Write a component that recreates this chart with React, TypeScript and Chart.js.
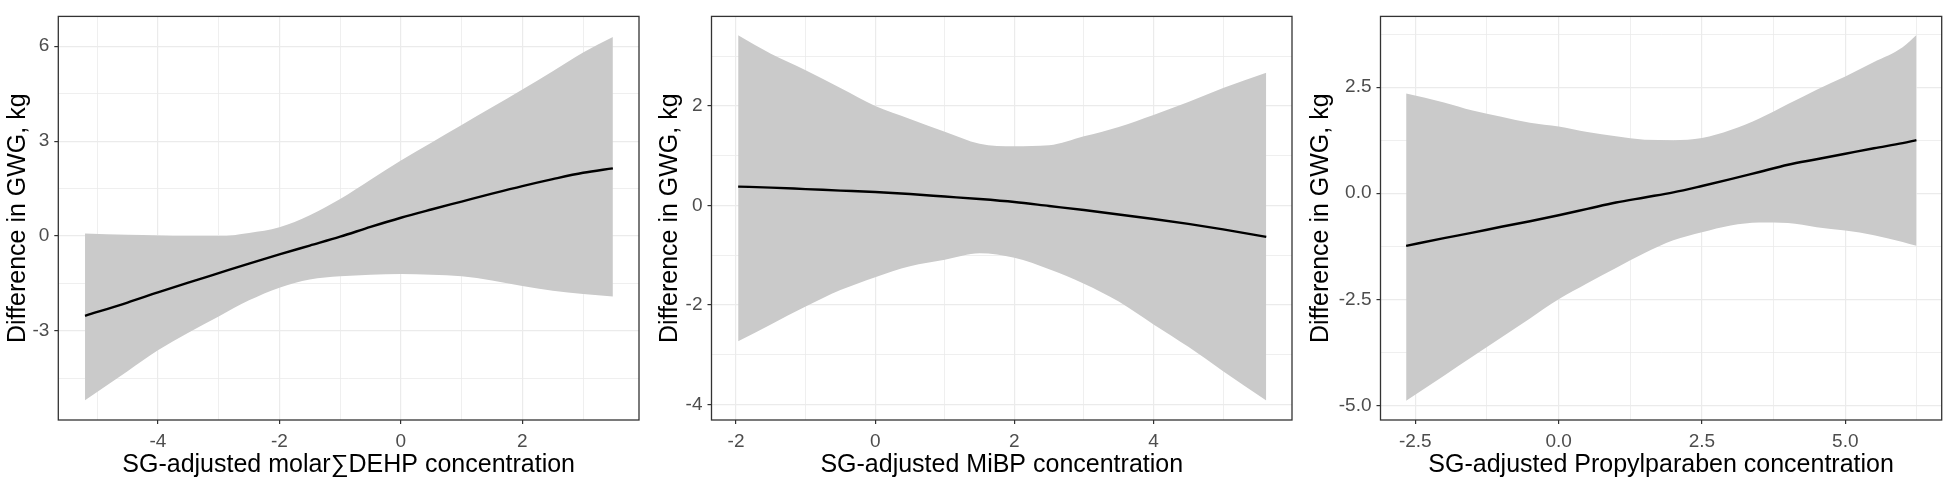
import React, { useEffect, useRef } from "react";
import { Chart, registerables } from "chart.js";

Chart.register(...registerables);

// ---------- Panel 1: molar ΣDEHP ----------
const p1X = [-5.2, -4.5, -4, -3.5, -3, -2.5, -2, -1.5, -1, -0.5, 0, 0.5, 1, 1.5, 2, 2.5, 3, 3.49];
const p1Fit = [-2.52, -2.1, -1.78, -1.47, -1.17, -0.87, -0.58, -0.3, -0.02, 0.29, 0.58, 0.84, 1.09, 1.34, 1.58, 1.8, 2.0, 2.14];
const p1Upper = [0.08, 0.04, 0.02, 0.0, 0.0, 0.1, 0.28, 0.66, 1.17, 1.78, 2.39, 2.95, 3.51, 4.07, 4.63, 5.21, 5.8, 6.29];
const p1Lower = [-5.19, -4.27, -3.61, -3.05, -2.54, -2.03, -1.63, -1.37, -1.27, -1.22, -1.2, -1.22, -1.27, -1.4, -1.58, -1.73, -1.83, -1.91];
const p1XMajor = [-4, -2, 0, 2];
const p1XLabels = ["-4", "-2", "0", "2"];
const p1XMinor = [-5, -3, -1, 1, 3];
const p1YMajor = [-3, 0, 3, 6];
const p1YLabels = ["-3", "0", "3", "6"];
const p1YMinor = [-4.5, -1.5, 1.5, 4.5];
const p1XTitle = "SG-adjusted molar\u2211DEHP concentration";

// ---------- Panel 2: MiBP ----------
const p2X = [-1.97, -1.5, -1, -0.5, 0, 0.5, 1, 1.5, 2, 2.5, 3, 3.5, 4, 4.5, 5, 5.62];
const p2Fit = [0.38, 0.36, 0.33, 0.3, 0.27, 0.23, 0.18, 0.13, 0.07, -0.01, -0.09, -0.18, -0.27, -0.37, -0.48, -0.63];
const p2Upper = [3.42, 3.05, 2.72, 2.36, 2.0, 1.74, 1.48, 1.24, 1.19, 1.21, 1.39, 1.58, 1.82, 2.08, 2.36, 2.67];
const p2Lower = [-2.73, -2.39, -2.03, -1.7, -1.44, -1.22, -1.09, -0.96, -1.05, -1.28, -1.57, -1.93, -2.39, -2.84, -3.33, -3.92];
const p2XMajor = [-2, 0, 2, 4];
const p2XLabels = ["-2", "0", "2", "4"];
const p2XMinor = [-1, 1, 3, 5];
const p2YMajor = [-4, -2, 0, 2];
const p2YLabels = ["-4", "-2", "0", "2"];
const p2YMinor = [-3, -1, 1, 3];
const p2XTitle = "SG-adjusted MiBP concentration";

// ---------- Panel 3: Propylparaben ----------
const p3X = [-2.66, -2, -1.5, -1, -0.5, 0, 0.5, 1, 1.5, 2, 2.5, 3, 3.5, 4, 4.5, 5, 5.5, 6, 6.24];
const p3Fit = [-1.24, -1.06, -0.93, -0.79, -0.66, -0.52, -0.37, -0.22, -0.1, 0.02, 0.17, 0.33, 0.5, 0.67, 0.8, 0.93, 1.06, 1.18, 1.25];
const p3Upper = [2.35, 2.14, 1.95, 1.8, 1.66, 1.57, 1.44, 1.34, 1.26, 1.25, 1.3, 1.49, 1.76, 2.1, 2.44, 2.75, 3.09, 3.44, 3.73];
const p3Lower = [-4.89, -4.3, -3.85, -3.4, -2.95, -2.5, -2.12, -1.76, -1.41, -1.11, -0.92, -0.76, -0.69, -0.7, -0.8, -0.88, -0.99, -1.15, -1.24];
const p3XMajor = [-2.5, 0, 2.5, 5];
const p3XLabels = ["-2.5", "0.0", "2.5", "5.0"];
const p3XMinor = [-1.25, 1.25, 3.75, 6.25];
const p3YMajor = [-5, -2.5, 0, 2.5];
const p3YLabels = ["-5.0", "-2.5", "0.0", "2.5"];
const p3YMinor = [-3.75, -1.25, 1.25, 3.75];
const p3XTitle = "SG-adjusted Propylparaben concentration";

const yTitle = "Difference in GWG, kg";

const FONT = "'Liberation Sans', Arial, Helvetica, sans-serif";

const panels = [
  {
    x: p1X, fit: p1Fit, upper: p1Upper, lower: p1Lower,
    xMajor: p1XMajor, xLabels: p1XLabels, xMinor: p1XMinor,
    yMajor: p1YMajor, yLabels: p1YLabels, yMinor: p1YMinor,
    xTitle: p1XTitle,
    xRange: [-5.64, 3.92], yRange: [-5.81, 6.94],
    canvasLeft: 0, areaLeft: 58.3, padRight: 11, titlePad: 3,
  },
  {
    x: p2X, fit: p2Fit, upper: p2Upper, lower: p2Lower,
    xMajor: p2XMajor, xLabels: p2XLabels, xMinor: p2XMinor,
    yMajor: p2YMajor, yLabels: p2YLabels, yMinor: p2YMinor,
    xTitle: p2XTitle,
    xRange: [-2.353, 5.99], yRange: [-4.31, 3.8],
    canvasLeft: 650, areaLeft: 61.5, padRight: 8, titlePad: 5,
  },
  {
    x: p3X, fit: p3Fit, upper: p3Upper, lower: p3Lower,
    xMajor: p3XMajor, xLabels: p3XLabels, xMinor: p3XMinor,
    yMajor: p3YMajor, yLabels: p3YLabels, yMinor: p3YMinor,
    xTitle: p3XTitle,
    xRange: [-3.107, 6.681], yRange: [-5.344, 4.166],
    canvasLeft: 1300, areaLeft: 80.5, padRight: 8.3, titlePad: 6.4,
  },
];

const framePlugin = {
  id: "panelFrame",
  afterDraw(chart: any) {
    const { ctx, chartArea: a } = chart;
    ctx.save();
    ctx.strokeStyle = "#333333";
    ctx.lineWidth = 1.3;
    ctx.strokeRect(a.left, a.top, a.right - a.left, a.bottom - a.top);
    ctx.restore();
  },
};

const near = (a: number, b: number) => Math.abs(a - b) < 1e-9;

function axisOpts(major: number[], labels: string[], minor: number[], range: number[], title: string, isX: boolean, p: any) {
  const all = [...major, ...minor].sort((a, b) => a - b);
  const isMajor = (v: number) => major.some((m) => near(m, v));
  return {
    type: "linear",
    position: isX ? "bottom" : "left",
    min: range[0],
    max: range[1],
    afterBuildTicks: (s: any) => {
      s.ticks = all.map((v) => ({ value: v }));
    },
    afterFit: (s: any) => {
      if (isX) s.height = 62;
      else s.width = p.areaLeft;
    },
    ticks: {
      autoSkip: false,
      maxRotation: 0,
      minRotation: 0,
      padding: isX ? 6 : 5,
      color: "#4D4D4D",
      font: { size: 19, family: FONT },
      callback: (v: number) => {
        const i = major.findIndex((m) => near(m, v));
        return i >= 0 ? labels[i] : "";
      },
    },
    grid: {
      color: "#EBEBEB",
      lineWidth: (c: any) => (c.tick && isMajor(c.tick.value) ? 1.2 : 0.8),
      drawTicks: true,
      tickLength: 4,
      tickWidth: 1.2,
      tickColor: (c: any) => (c.tick && isMajor(c.tick.value) ? "#333333" : "rgba(0,0,0,0)"),
    },
    border: { display: false },
    title: {
      display: true,
      text: title,
      color: "#000000",
      font: { size: 25, family: FONT, lineHeight: 1.2 },
      padding: isX ? { top: 0, bottom: 2 } : { top: p.titlePad, bottom: 0 },
    },
  };
}

function Panel({ p }: { p: any }) {
  const ref = useRef<HTMLCanvasElement | null>(null);
  useEffect(() => {
    if (!ref.current) return;
    const pts = (ys: number[]) => p.x.map((x: number, i: number) => ({ x, y: ys[i] }));
    const chart = new Chart(ref.current, {
      type: "line",
      data: {
        datasets: [
          {
            label: "fit",
            data: pts(p.fit),
            borderColor: "#000000",
            borderWidth: 2.4,
            pointRadius: 0,
            cubicInterpolationMode: "monotone",
            fill: false,
          },
          {
            label: "upper",
            data: pts(p.upper),
            borderWidth: 0,
            borderColor: "rgba(0,0,0,0)",
            backgroundColor: "#CACACA",
            pointRadius: 0,
            cubicInterpolationMode: "monotone",
            fill: 2,
          },
          {
            label: "lower",
            data: pts(p.lower),
            borderWidth: 0,
            borderColor: "rgba(0,0,0,0)",
            pointRadius: 0,
            cubicInterpolationMode: "monotone",
            fill: false,
          },
        ],
      } as any,
      options: {
        animation: false,
        responsive: false,
        devicePixelRatio: 1,
        layout: { padding: { top: 4.5, right: p.padRight, left: 0, bottom: 0 } },
        plugins: {
          legend: { display: false },
          tooltip: { enabled: false },
        },
        scales: {
          x: axisOpts(p.xMajor, p.xLabels, p.xMinor, p.xRange, p.xTitle, true, p),
          y: axisOpts(p.yMajor, p.yLabels, p.yMinor, p.yRange, yTitle, false, p),
        } as any,
      },
      plugins: [framePlugin],
    });
    return () => chart.destroy();
  }, []);
  return (
    <canvas
      ref={ref}
      width={650}
      height={482}
      style={{ position: "absolute", left: p.canvasLeft, top: 0, width: 650, height: 482, display: "block" }}
    />
  );
}

export default function App() {
  return (
    <div style={{ position: "absolute", left: 0, top: 0, width: 1950, height: 482, background: "#ffffff", overflow: "hidden" }}>
      {panels.map((p, i) => (
        <Panel key={i} p={p} />
      ))}
    </div>
  );
}
